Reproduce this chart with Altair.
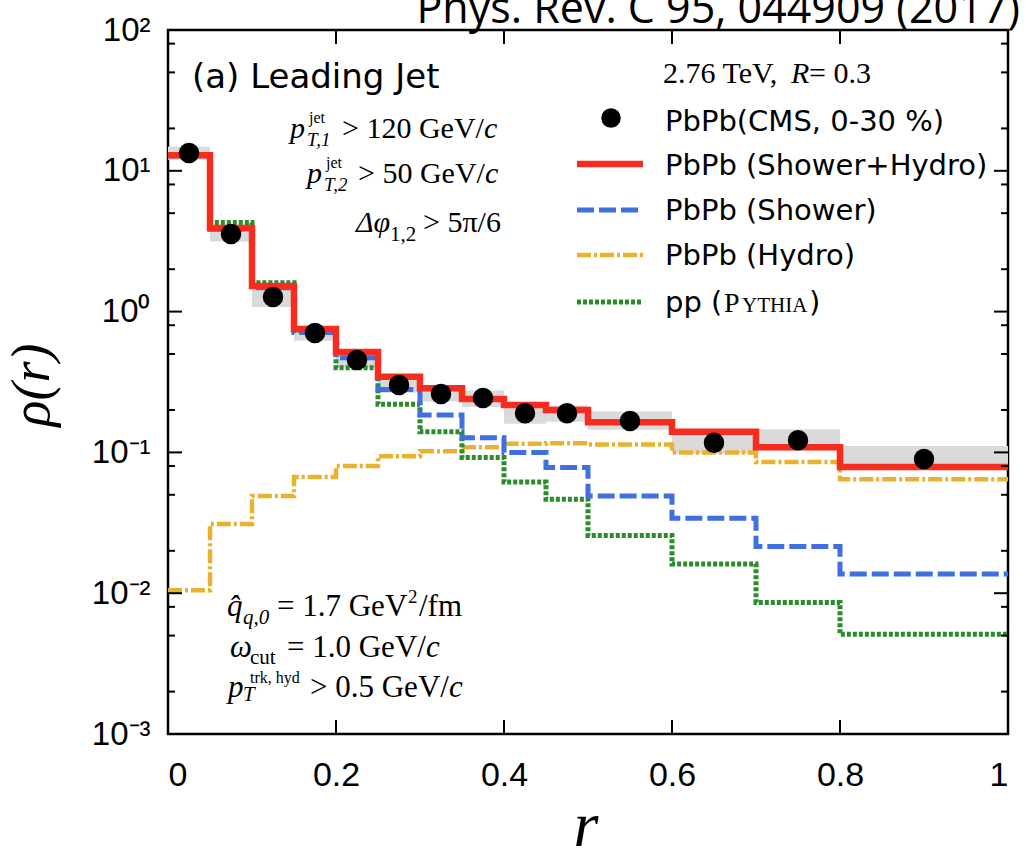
import altair as alt
import pandas as pd

# ---------------- data ----------------
edges = [0.0, 0.05, 0.1, 0.15, 0.2, 0.25, 0.3, 0.35, 0.4, 0.45, 0.5, 0.6, 0.7, 0.8, 1.0]
centers = [0.025, 0.075, 0.125, 0.175, 0.225, 0.275, 0.325, 0.375, 0.425, 0.475, 0.55, 0.65, 0.75, 0.9]
cms = [13.4, 3.56, 1.27, 0.705, 0.453, 0.301, 0.26, 0.243, 0.19, 0.19, 0.167, 0.117, 0.122, 0.0897]
cms_lo = [12.0, 3.15, 1.08, 0.62, 0.40, 0.265, 0.23, 0.21, 0.16, 0.165, 0.145, 0.098, 0.106, 0.078]
cms_hi = [14.8, 4.0, 1.5, 0.79, 0.51, 0.34, 0.295, 0.275, 0.22, 0.215, 0.195, 0.14, 0.146, 0.111]
shower_hydro = [12.9, 3.93, 1.52, 0.751, 0.516, 0.344, 0.286, 0.239, 0.217, 0.2, 0.164, 0.14, 0.109, 0.0787]
shower = [12.8, 3.85, 1.48, 0.71, 0.47, 0.28, 0.184, 0.127, 0.1, 0.078, 0.049, 0.034, 0.0215, 0.0137]
hydro = [0.0105, 0.031, 0.049, 0.067, 0.080, 0.094, 0.102, 0.109, 0.115, 0.116, 0.114, 0.10, 0.0855, 0.0645]
pythia = [12.9, 4.3, 1.6, 0.73, 0.40, 0.22, 0.14, 0.092, 0.0616, 0.0464, 0.0257, 0.0161, 0.0086, 0.0051]

x_ticks = [0, 0.2, 0.4, 0.6, 0.8, 1.0]
y_major = [1e-3, 1e-2, 1e-1, 1e0, 1e1, 1e2]
y_minor = [m * 10.0 ** k for k in range(-3, 2) for m in (2, 5, 8)]

W, H = 840, 704
L, T = 168, 30

RED, BLUE, YEL, GRN = "#f52c1e", "#3f6fe0", "#e8b22e", "#2a8c2a"

xs = alt.Scale(domain=[0, 1], nice=False)
ys = alt.Scale(type="log", domain=[1e-3, 1e2], nice=False)

xaxis = alt.Axis(values=x_ticks, format="~g", ticks=False, domain=False, grid=False,
                 labelFont="Liberation Sans", labelFontSize=34, labelColor="black",
                 labelPadding=24, tickSize=0, title=None)
yaxis = alt.Axis(values=y_major, ticks=False, domain=False, grid=False,
                 labelExpr="'10' + ['⁻³','⁻²','⁻¹','⁰','¹','²'][round(log(datum.value)/LN10) + 3]",
                 labelFont="Liberation Sans", labelFontSize=33, labelColor="black",
                 labelPadding=18, tickSize=0, title=None)

band_df = pd.DataFrame({"x0": edges[:-1], "x1": edges[1:], "lo": cms_lo, "hi": cms_hi})
bands = alt.Chart(band_df).mark_rect(color="#dadada").encode(
    x=alt.X("x0:Q", scale=xs, axis=xaxis), x2="x1:Q",
    y=alt.Y("lo:Q", scale=ys, axis=yaxis), y2="hi:Q")


def step(vals, color, width, dash=None):
    df = pd.DataFrame({"r": edges, "v": vals + [vals[-1]]})
    kw = dict(interpolate="step-after", color=color, strokeWidth=width)
    if dash:
        kw["strokeDash"] = dash
    return alt.Chart(df).mark_line(**kw).encode(
        x=alt.X("r:Q", scale=xs), y=alt.Y("v:Q", scale=ys))


l_hydro = step(hydro, YEL, 4.5, [14, 3, 3, 3])
l_pyth = step(pythia, GRN, 5, [4, 2])
l_show = step(shower, BLUE, 5, [17, 5])
l_sh = step(shower_hydro, RED, 6.5)

pts = alt.Chart(pd.DataFrame({"r": centers, "v": cms})).mark_circle(
    size=420, color="black", opacity=1).encode(
    x=alt.X("r:Q", scale=xs), y=alt.Y("v:Q", scale=ys))

# inward ticks on all four sides
def yticks(vals, length):
    d = pd.DataFrame({"v": vals})
    left = alt.Chart(d).mark_rule(color="black", strokeWidth=2).encode(
        y=alt.Y("v:Q", scale=ys), x=alt.value(0), x2=alt.value(length))
    right = alt.Chart(d).mark_rule(color="black", strokeWidth=2).encode(
        y=alt.Y("v:Q", scale=ys), x=alt.value(W), x2=alt.value(W - length))
    return [left, right]

xd = pd.DataFrame({"r": x_ticks})
xt_b = alt.Chart(xd).mark_rule(color="black", strokeWidth=2).encode(
    x=alt.X("r:Q", scale=xs), y=alt.value(H), y2=alt.value(H - 14))
xt_t = alt.Chart(xd).mark_rule(color="black", strokeWidth=2).encode(
    x=alt.X("r:Q", scale=xs), y=alt.value(0), y2=alt.value(14))

# ---------------- manual legend ----------------
def swatch(y, color, width, dash=None):
    kw = dict(color=color, strokeWidth=width)
    if dash:
        kw["strokeDash"] = dash
    return alt.Chart(pd.DataFrame({"a": [0]})).mark_rule(**kw).encode(
        x=alt.value(577 - L), x2=alt.value(643 - L), y=alt.value(y - T))

leg = [
    alt.Chart(pd.DataFrame({"a": [0]})).mark_circle(size=380, color="black", opacity=1).encode(
        x=alt.value(611 - L), y=alt.value(118 - T)),
    swatch(164, RED, 6.5),
    swatch(210, BLUE, 5, [17, 5]),
    swatch(255, YEL, 4.5, [14, 3, 3, 3]),
    swatch(302, GRN, 5, [4, 2]),
]


def txt(s, x, y, size, font="Liberation Serif", style="normal", align="left", angle=0, baseline="alphabetic"):
    kw = dict(font=font, fontSize=size, fontStyle=style, align=align, baseline=baseline, color="black")
    if angle:
        kw["angle"] = angle
    return alt.Chart(pd.DataFrame({"t": [s]})).mark_text(**kw).encode(
        text="t:N", x=alt.value(x - L), y=alt.value(y - T))

SANS = "DejaVu Sans"
texts = [
    txt("Phys. Rev. C 95, 044909 (2017)", 1020, 23, 43, font="Open Sans", align="right"),
    txt("(a) Leading Jet", 192, 88, 34, font=SANS),
    txt("2.76 TeV, ", 663, 83, 30),
    txt("R", 791, 83, 30, style="italic"),
    txt("= 0.3", 809, 83, 30),
    txt("PbPb(CMS, 0-30 %)", 665, 131, 29, font=SANS),
    txt("PbPb (Shower+Hydro)", 665, 175, 29, font=SANS),
    txt("PbPb (Shower)", 665, 220, 29, font=SANS),
    txt("PbPb (Hydro)", 665, 265, 29, font=SANS),
    txt("pp (", 665, 312, 29, font=SANS),
    txt("P", 724, 312, 28),
    txt("YTHIA", 742, 312, 21),
    txt(")", 809, 312, 29, font=SANS),
    # cuts
    txt("p", 290, 138, 30, style="italic"),
    txt("jet", 309, 123, 16),
    txt("T,1", 307, 146, 19, style="italic"),
    txt("> 120 GeV/", 342, 138, 30),
    txt("c", 484, 138, 30, style="italic"),
    txt("p", 307, 183, 30, style="italic"),
    txt("jet", 326, 168, 16),
    txt("T,2", 324, 191, 19, style="italic"),
    txt("> 50 GeV/", 358, 183, 30),
    txt("c", 485, 183, 30, style="italic"),
    txt("Δφ", 356, 232, 30, style="italic"),
    txt("1,2", 390, 241, 21),
    txt("> 5π/6", 423, 232, 30),
    # parameters
    txt("q\u0302", 227, 616, 31, style="italic"),
    txt("q,0", 243, 624, 21, style="italic"),
    txt("= 1.7 GeV", 277, 616, 31),
    txt("2", 408, 603, 19),
    txt("/fm", 419, 616, 31),
    txt("ω", 230, 657, 31, style="italic"),
    txt("cut", 250, 664, 21),
    txt("= 1.0 GeV/", 287, 657, 31),
    txt("c", 426, 657, 31, style="italic"),
    txt("p", 228, 697, 31, style="italic"),
    txt("T", 243, 701, 21, style="italic"),
    txt("trk, hyd", 250, 683, 16),
    txt("> 0.5 GeV/", 310, 697, 31),
    txt("c", 449, 697, 31, style="italic"),
    # axis titles
    txt("ρ(r)", 49, 385, 54, style="italic", align="center", angle=270),
    txt("r", 586, 846, 64, style="italic", align="center"),
]

layers = [bands, l_hydro, l_pyth, l_show, l_sh, pts] + yticks(y_major, 14) + yticks(y_minor, 7) \
    + [xt_b, xt_t] + leg + texts

chart = alt.layer(*layers).properties(
    width=W, height=H,
    padding={"left": L, "top": T, "right": 1025 - L - W, "bottom": 851 - T - H},
    autosize=alt.AutoSizeParams(type="none"),
    background="white",
).configure_view(stroke="black", strokeWidth=2.5)

chart.save("out.html", embed_options={"renderer": "svg", "actions": False})
